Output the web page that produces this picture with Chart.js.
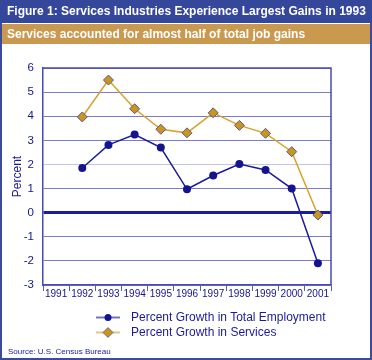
<!DOCTYPE html>
<html>
<head>
<meta charset="utf-8">
<script src="https://cdn.jsdelivr.net/npm/chart.js@4.4.1/dist/chart.umd.min.js"></script>
<style>
  body { margin: 0; background: #fff; }
  #wrap { position: relative; width: 372px; height: 360px; overflow: hidden; font-family: "Liberation Sans", Arial, sans-serif; }
  #frame { position: absolute; left: 0; top: 0; width: 368px; height: 356px; border: 2px solid #3a4b9c; }
  #title { position: absolute; left: 0; top: 0; width: 372px; height: 23px; background: #34479a; color: #fff; font-weight: bold; font-size: 12px; line-height: 23px; padding-left: 7px; box-sizing: border-box; white-space: nowrap; }
  #subtitle { position: absolute; left: 2px; top: 24px; width: 368px; height: 20px; background: #c9994f; color: #fff; font-weight: bold; font-size: 12px; line-height: 20px; padding-left: 5px; box-sizing: border-box; white-space: nowrap; }
  #chart { position: absolute; left: 0; top: 0; }
  .leg { position: absolute; left: 96px; height: 15px; color: #1a1a9a; font-size: 12px; line-height: 15px; white-space: nowrap; }
  .leg svg { vertical-align: top; margin-right: 10px; }
  #source { position: absolute; left: 8px; top: 347px; color: #1a1a9a; font-size: 8px; }
</style>
</head>
<body>
<div id="wrap">
  <canvas id="chart" width="372" height="360"></canvas>
  <div id="frame"></div>
  <div id="title">Figure 1: Services Industries Experience Largest Gains in 1993</div>
  <div id="subtitle">Services accounted for almost half of total job gains</div>
  <div class="leg" style="top:310px"><svg width="25" height="15"><line x1="0" y1="7.5" x2="24" y2="7.5" stroke="#7272c4" stroke-width="2"/><circle cx="12" cy="7.5" r="3.5" fill="#14148f"/></svg>Percent Growth in Total Employment</div>
  <div class="leg" style="top:325px"><svg width="25" height="15"><line x1="0" y1="7.5" x2="24" y2="7.5" stroke="#e2c483" stroke-width="2"/><rect x="8.5" y="4" width="7" height="7" transform="rotate(45 12 7.5)" fill="#c9951f" stroke="#5a5a8a" stroke-width="0.8"/></svg>Percent Growth in Services</div>
  <div id="source">Source: U.S. Census Bureau</div>
</div>
<script>
const years = ['1991', '1992', '1993', '1994', '1995', '1996', '1997', '1998', '1999', '2000', '2001'];
const totalEmployment = [null, 1.85, 2.81, 3.24, 2.7, 0.97, 1.54, 2.02, 1.77, 1.0, -2.1];
const services = [null, 3.97, 5.5, 4.31, 3.46, 3.31, 4.14, 3.62, 3.29, 2.53, -0.1];
const yMin = -3;
const yMax = 6;

const frameBox = {
  id: 'frameBox',
  afterDraw(chart) {
    const a = chart.chartArea;
    const ctx = chart.ctx;
    ctx.save();
    ctx.strokeStyle = '#4848b8';
    ctx.lineWidth = 1.5;
    ctx.beginPath();
    ctx.moveTo(a.left, a.top);
    ctx.lineTo(a.right, a.top);
    ctx.lineTo(a.right, a.bottom);
    ctx.stroke();
    ctx.restore();
  }
};

new Chart(document.getElementById('chart'), {
  type: 'line',
  data: {
    labels: years,
    datasets: [
      {
        label: 'Percent Growth in Total Employment',
        data: totalEmployment,
        borderColor: '#1a1a9a',
        borderWidth: 1.5,
        pointStyle: 'circle',
        pointRadius: 4,
        pointBackgroundColor: '#14148f',
        pointBorderColor: '#14148f',
        pointBorderWidth: 0,
        tension: 0
      },
      {
        label: 'Percent Growth in Services',
        data: services,
        borderColor: '#d6a32b',
        borderWidth: 1.5,
        pointStyle: 'rectRot',
        pointRadius: 5,
        pointBackgroundColor: '#c9951f',
        pointBorderColor: '#5a5a8a',
        pointBorderWidth: 1,
        tension: 0
      }
    ]
  },
  options: {
    responsive: false,
    animation: false,
    layout: { padding: { left: 10, top: 68, right: 41, bottom: 55 } },
    plugins: { legend: { display: false }, tooltip: { enabled: false } },
    scales: {
      x: {
        offset: true,
        afterFit(s) { s.height = 20; },
        grid: {
          offset: true,
          drawOnChartArea: false,
          tickLength: 6,
          color: '#5a5abf',
          lineWidth: 1
        },
        border: { color: '#4848b8', width: 1.5 },
        ticks: { color: '#14148f', font: { family: 'Liberation Sans', size: 10 }, padding: -3, maxRotation: 0, autoSkip: false }
      },
      y: {
        min: yMin,
        max: yMax,
        afterFit(s) { s.width = 33; },
        grid: {
          drawTicks: false,
          color: ctx => ctx.tick.value === 0 ? '#1c1ca0' : (ctx.tick.value === 2 ? '#c4c4e4' : '#7b7bcc'),
          lineWidth: ctx => ctx.tick.value === 0 ? 3 : 1
        },
        border: { color: '#4848b8', width: 1.5 },
        ticks: { stepSize: 1, color: '#14148f', font: { family: 'Liberation Sans', size: 11.5 }, padding: 9 },
        title: { display: true, text: 'Percent', color: '#1a1a9a', font: { family: 'Liberation Sans', size: 12 }, padding: 0 }
      }
    }
  },
  plugins: [frameBox]
});
</script>
</body>
</html>
